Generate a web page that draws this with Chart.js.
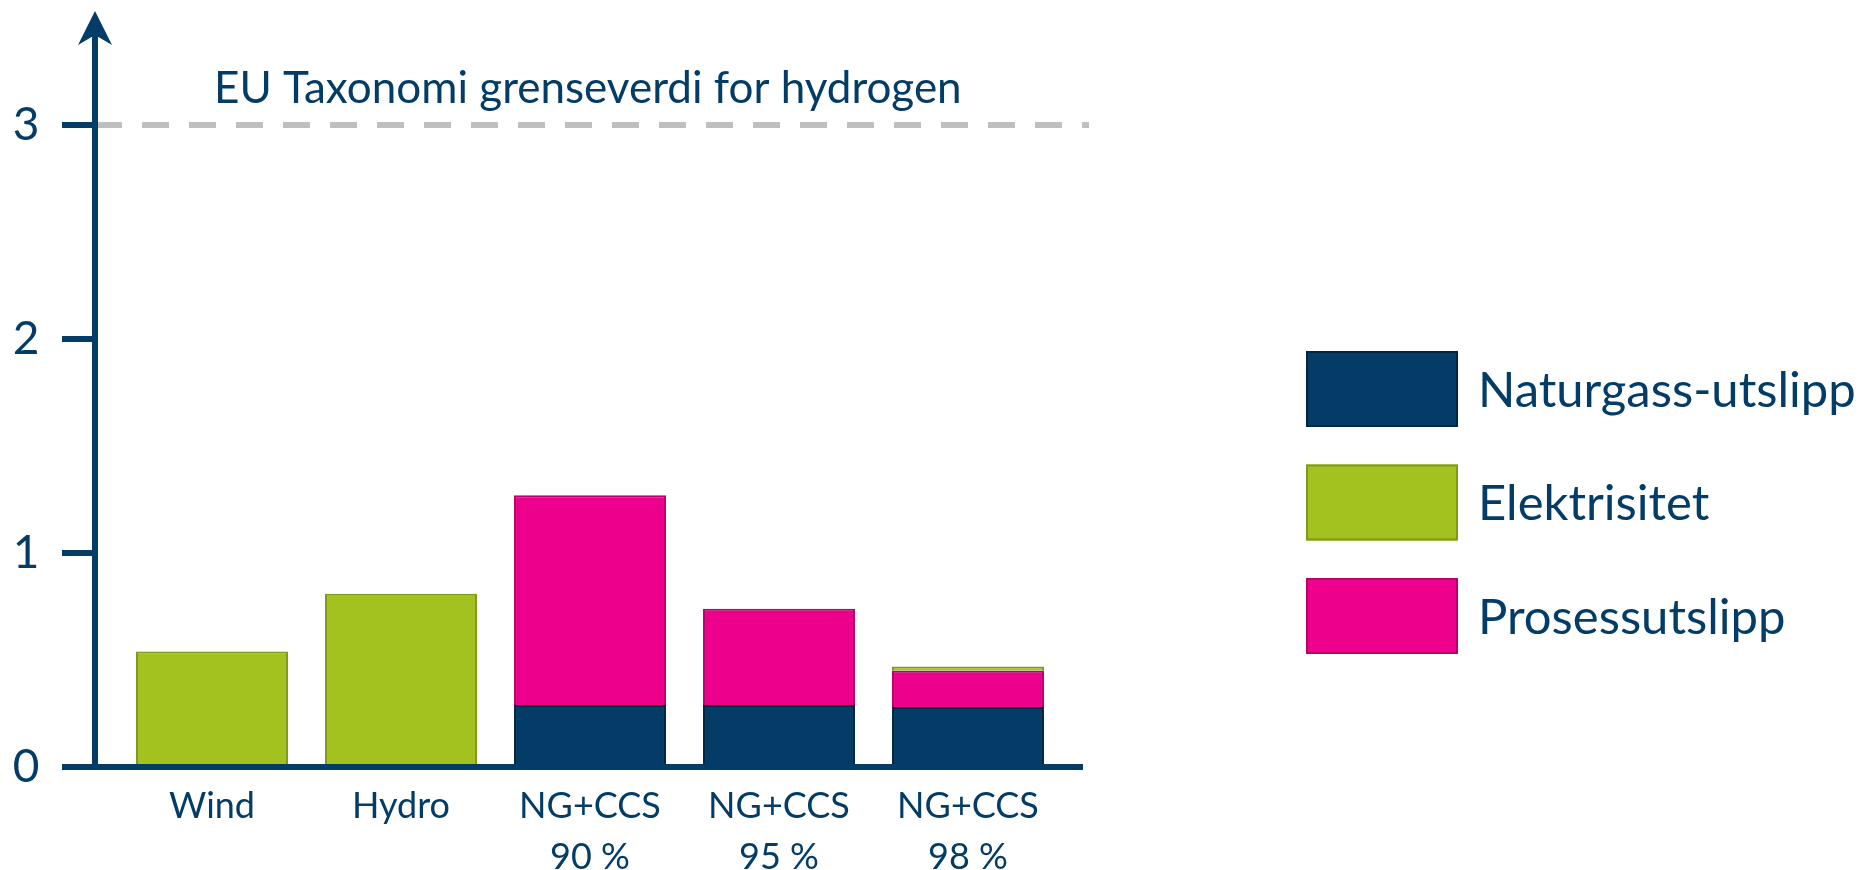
<!DOCTYPE html>
<html>
<head>
<meta charset="utf-8">
<script src="https://cdn.jsdelivr.net/npm/chart.js@4.4.0/dist/chart.umd.min.js"></script>
<style>
  html, body { margin: 0; padding: 0; background: #fff; }
</style>
</head>
<body>
<canvas id="myChart" width="1862" height="870"></canvas>
<script>
const categories = [['Wind'], ['Hydro'], ['NG+CCS', '90 %'], ['NG+CCS', '95 %'], ['NG+CCS', '98 %']];
const naturgass = [null, null, 0.29, 0.29, 0.28];
const prosess = [null, null, 0.98, 0.45, 0.17];
const elektrisitet = [0.54, 0.81, null, null, 0.02];
const yTicks = [0, 1, 2, 3];
const threshold = 3;
const thresholdLabel = 'EU Taxonomi grenseverdi for hydrogen';

const navy = '#033c66';
const green = '#a3c11f';
const magenta = '#ec008c';
const font = 'Lato, "Open Sans", sans-serif';

// legend order differs from stacking order
const legendOrder = [0, 2, 1];

const decorations = {
    id: 'decorations',
    afterDatasetsDraw(chart) {
        const ctx = chart.ctx;
        const y = chart.scales.y;
        const x0 = 95;
        const yZero = y.getPixelForValue(0);
        const yTop = y.getPixelForValue(y.max);

        ctx.save();
        // threshold line
        ctx.strokeStyle = '#bfbfbf';
        ctx.lineWidth = 6;
        ctx.setLineDash([27, 20]);
        const yt = y.getPixelForValue(threshold);
        ctx.beginPath();
        ctx.moveTo(x0, yt);
        ctx.lineTo(1089, yt);
        ctx.stroke();
        ctx.setLineDash([]);

        ctx.fillStyle = navy;
        ctx.font = '44px ' + font;
        ctx.textBaseline = 'alphabetic';
        ctx.fillText(thresholdLabel, 214, 103);

        // axes
        ctx.strokeStyle = navy;
        ctx.lineWidth = 6;
        ctx.beginPath();
        ctx.moveTo(62, yZero);
        ctx.lineTo(1083, yZero);
        ctx.moveTo(x0, yZero + 3);
        ctx.lineTo(x0, yTop + 14);
        yTicks.forEach(v => {
            const p = y.getPixelForValue(v);
            ctx.moveTo(62, p);
            ctx.lineTo(x0, p);
        });
        ctx.stroke();
        // arrow head
        ctx.beginPath();
        ctx.moveTo(x0, yTop - 7);
        ctx.lineTo(x0 - 17, yTop + 27);
        ctx.lineTo(x0, yTop + 17);
        ctx.lineTo(x0 + 17, yTop + 27);
        ctx.closePath();
        ctx.fill();

        // legend
        const sets = chart.data.datasets;
        legendOrder.forEach((di, i) => {
            const ds = sets[di];
            const top = 351 + i * 113.5;
            ctx.fillStyle = ds.backgroundColor;
            ctx.fillRect(1306, top, 152, 76);
            ctx.strokeStyle = ds.borderColor;
            ctx.lineWidth = 2;
            ctx.strokeRect(1307, top + 1, 150, 74);
            ctx.fillStyle = navy;
            ctx.font = '49px ' + font;
            ctx.textBaseline = 'middle';
            ctx.fillText(ds.label, 1478, top + 40);
        });
        ctx.restore();
    }
};

new Chart('myChart', {
    type: 'bar',
    data: {
        labels: categories,
        datasets: [{
            label: 'Naturgass-utslipp',
            data: naturgass,
            backgroundColor: navy,
            borderColor: '#02263f',
            borderWidth: 2
        }, {
            label: 'Prosessutslipp',
            data: prosess,
            backgroundColor: magenta,
            borderColor: '#b8006e',
            borderWidth: 2
        }, {
            label: 'Elektrisitet',
            data: elektrisitet,
            backgroundColor: green,
            borderColor: '#7d9a1b',
            borderWidth: 2
        }]
    },
    options: {
        responsive: false,
        animation: false,
        layout: { padding: { top: 18, right: 799.5, left: 0, bottom: 0 } },
        plugins: {
            legend: { display: false },
            tooltip: { enabled: false }
        },
        datasets: {
            bar: { categoryPercentage: 1, barPercentage: 0.804 }
        },
        scales: {
            x: {
                stacked: true,
                grid: { display: false, drawTicks: false },
                border: { display: false },
                ticks: {
                    color: navy,
                    font: { family: font, size: 36, lineHeight: 1.42 },
                    padding: 14,
                    maxRotation: 0,
                    autoSkip: false
                },
                afterFit(s) { s.height = 103; }
            },
            y: {
                stacked: true,
                min: 0,
                max: 3.5,
                afterBuildTicks(s) { s.ticks = yTicks.map(v => ({ value: v })); },
                grid: { display: false, drawTicks: false },
                border: { display: false },
                ticks: {
                    color: navy,
                    font: { family: font, size: 46 },
                    padding: 78
                },
                afterFit(s) {
                    s.width = 117.5;
                    s.paddingTop = 0;
                    s.paddingBottom = 0;
                }
            }
        }
    },
    plugins: [decorations]
});
</script>
</body>
</html>
